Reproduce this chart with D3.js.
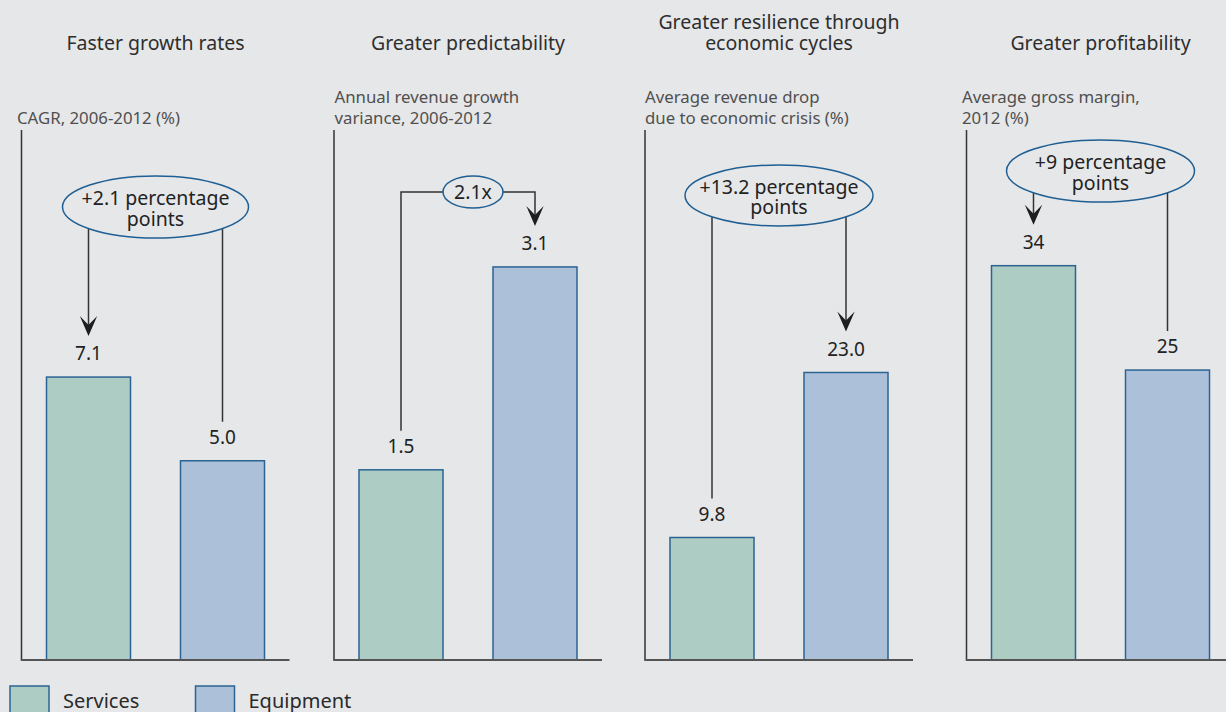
<!DOCTYPE html>
<html>
<head>
<meta charset="utf-8">
<script src="https://cdn.jsdelivr.net/npm/d3@7"></script>
<style>
  html, body { margin: 0; padding: 0; background: #e6e7e9; }
  svg { display: block; }
  text { font-family: "Noto Sans", "Open Sans", sans-serif; }
</style>
</head>
<body>
<svg id="chart" width="1226" height="712"></svg>
<script>
// ---------- data ----------
const categories = ["Services", "Equipment"];
const panelTitles = [
  ["Faster growth rates"],
  ["Greater predictability"],
  ["Greater resilience through", "economic cycles"],
  ["Greater profitability"]
];
const panelSubtitles = [
  ["CAGR, 2006-2012 (%)"],
  ["Annual revenue growth", "variance, 2006-2012"],
  ["Average revenue drop", "due to economic crisis (%)"],
  ["Average gross margin,", "2012 (%)"]
];
const servicesValues  = [7.1, 1.5, 9.8, 34];
const equipmentValues = [5.0, 3.1, 23.0, 25];
const servicesLabels  = ["7.1", "1.5", "9.8", "34"];
const equipmentLabels = ["5.0", "3.1", "23.0", "25"];
const annotationTexts = [
  ["+2.1 percentage", "points"],
  ["2.1x"],
  ["+13.2 percentage", "points"],
  ["+9 percentage", "points"]
];
const arrowTargets = ["Services", "Equipment", "Equipment", "Services"];

// ---------- layout ----------
const layout = [
  { axisX: 21.5, subX: 17,    yMax: 13.3, ell: { dx: 134, cy: 207, rx: 93, ry: 31 }, style: "drop" },
  { axisX: 334,  subX: 334.5, yMax: 4.18, ell: { dx: 139, cy: 192, rx: 30, ry: 16 }, style: "bracket" },
  { axisX: 645,  subX: 645,   yMax: 42.4, ell: { dx: 134, cy: 195.5, rx: 94, ry: 30.5 }, style: "drop" },
  { axisX: 966.5,subX: 962,   yMax: 45.7, ell: { dx: 134, cy: 171, rx: 94, ry: 31 }, style: "drop" }
];
const baseY = 660, topY = 130, panelW = 268;
const colors = { Services: "#adccc4", Equipment: "#adc0da" };
const barStroke = "#2b6493";
const ellStroke = "#1f5f93";

const svg = d3.select("#chart");
svg.append("rect").attr("width", 1226).attr("height", 712).attr("fill", "#e6e7e9");

function arrowHead(g, x, y) {
  g.append("path")
    .attr("d", `M${x},${y} L${x - 8.7},${y - 20} L${x},${y - 11} L${x + 8.7},${y - 20} Z`)
    .attr("fill", "#1e1e1e");
}

layout.forEach((L, i) => {
  const g = svg.append("g");
  const x = d3.scaleBand().domain(categories)
    .range([L.axisX, L.axisX + panelW])
    .paddingInner(50 / 134).paddingOuter(25 / 134);
  const y = d3.scaleLinear().domain([0, L.yMax]).range([baseY, topY]);

  const vals = { Services: servicesValues[i], Equipment: equipmentValues[i] };
  const labs = { Services: servicesLabels[i], Equipment: equipmentLabels[i] };

  // title
  const cx = L.axisX + 134;
  const tLines = panelTitles[i];
  const tBase = tLines.length === 1 ? [50] : [28.5, 50];
  tLines.forEach((t, k) => {
    g.append("text").attr("x", cx).attr("y", tBase[k])
      .attr("text-anchor", "middle").attr("font-size", 19.5)
      .attr("fill", "#2e2e2e").text(t);
  });

  // subtitle
  const sLines = panelSubtitles[i];
  const sBase = sLines.length === 1 ? [124] : [103, 124];
  sLines.forEach((t, k) => {
    g.append("text").attr("x", L.subX).attr("y", sBase[k])
      .attr("font-size", 16.8).attr("fill", "#505050").text(t);
  });

  // bars
  g.selectAll("rect.bar").data(categories).join("rect")
    .attr("class", "bar")
    .attr("x", d => x(d))
    .attr("y", d => y(vals[d]))
    .attr("width", x.bandwidth())
    .attr("height", d => baseY - y(vals[d]))
    .attr("fill", d => colors[d])
    .attr("stroke", barStroke).attr("stroke-width", 1.5);

  // axis lines
  g.append("line").attr("x1", L.axisX).attr("x2", L.axisX)
    .attr("y1", topY).attr("y2", baseY)
    .attr("stroke", "#333").attr("stroke-width", 1.5);
  g.append("line").attr("x1", L.axisX - 0.75).attr("x2", L.axisX + panelW)
    .attr("y1", baseY).attr("y2", baseY)
    .attr("stroke", "#555").attr("stroke-width", 2);

  // value labels
  g.selectAll("text.val").data(categories).join("text")
    .attr("class", "val")
    .attr("x", d => x(d) + x.bandwidth() / 2)
    .attr("y", d => y(vals[d]) - 17)
    .attr("text-anchor", "middle").attr("font-size", 19)
    .attr("fill", "#222").text(d => labs[d]);

  // annotation
  const ecx = L.axisX + L.ell.dx, ecy = L.ell.cy;
  const aLines = annotationTexts[i];
  categories.forEach(c => {
    const bx = x(c) + x.bandwidth() / 2;
    const labelTop = y(vals[c]) - 17 - 15;
    const isArrow = arrowTargets[i] === c;
    const endY = isArrow ? labelTop - 9 : labelTop - 7;
    if (L.style === "bracket") {
      const edgeX = bx < ecx ? ecx - L.ell.rx : ecx + L.ell.rx;
      g.append("path")
        .attr("d", `M${edgeX},${ecy} L${bx},${ecy} L${bx},${isArrow ? endY - 10 : endY}`)
        .attr("fill", "none").attr("stroke", "#333").attr("stroke-width", 1.5);
    } else {
      const dx = bx - ecx;
      const sy = ecy + L.ell.ry * Math.sqrt(Math.max(0, 1 - (dx / L.ell.rx) ** 2));
      g.append("line").attr("x1", bx).attr("x2", bx)
        .attr("y1", sy).attr("y2", isArrow ? endY - 10 : endY)
        .attr("stroke", "#333").attr("stroke-width", 1.5);
    }
    if (isArrow) arrowHead(g, bx, endY);
  });
  g.append("ellipse").attr("cx", ecx).attr("cy", ecy)
    .attr("rx", L.ell.rx).attr("ry", L.ell.ry)
    .attr("fill", "#e6e7e9").attr("stroke", ellStroke).attr("stroke-width", 1.5);
  const aBase = aLines.length === 1 ? [ecy + 6.5] : [ecy - 2, ecy + 18.5];
  aLines.forEach((t, k) => {
    g.append("text").attr("x", ecx).attr("y", aBase[k])
      .attr("text-anchor", "middle").attr("font-size", 19.5)
      .attr("fill", "#222").text(t);
  });
});

// legend
const legendX = [10, 195.5];
const lg = svg.append("g");
categories.forEach((c, k) => {
  lg.append("rect").attr("x", legendX[k]).attr("y", 686)
    .attr("width", 39).attr("height", 40)
    .attr("fill", colors[c]).attr("stroke", barStroke).attr("stroke-width", 1.5);
  lg.append("text").attr("x", legendX[k] + 53).attr("y", 707.5)
    .attr("font-size", 20).attr("fill", "#2a2a2a").text(c);
});
</script>
</body>
</html>
